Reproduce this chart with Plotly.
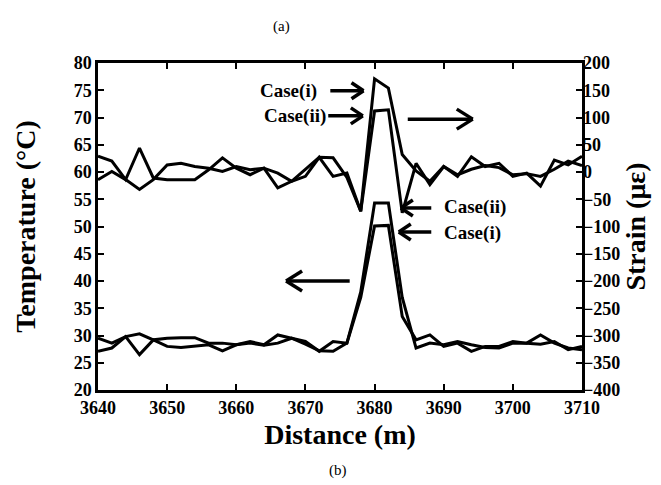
import math
import plotly.graph_objects as go

distance = [3640 + 2 * i for i in range(36)]

temp_case_i = [29.5, 28.6, 29.8, 30.3, 29.2, 29.5, 29.6, 29.6, 28.6, 28.6, 28.3, 28.9,
               28.3, 30.1, 29.5, 28.9, 27.1, 28.9, 28.6, 37.0, 50.1, 50.2, 33.5, 29.2,
               30.1, 28.0, 28.6, 27.1, 28.0, 28.0, 28.9, 28.6, 30.1, 28.6, 27.7, 27.4]
temp_case_ii = [27.1, 27.7, 29.8, 26.5, 29.2, 28.0, 27.8, 28.0, 28.3, 27.2, 28.3, 28.6,
                28.2, 28.6, 29.5, 28.4, 27.2, 27.1, 28.6, 38.0, 54.3, 54.3, 37.0, 27.7,
                28.6, 28.3, 28.9, 28.3, 27.8, 27.7, 28.6, 28.6, 28.4, 28.9, 27.4, 28.0]
strain_case_i = [29, 20, -14, 44, -11, -14, -14, -14, 4, 26, 7, -5, 7, -29, -17, 5, 27, 26,
                 -10, -72, 171, 154, 32, 2, -17, 10, -8, 28, 10, 16, -8, -2, -26, 22, 13, 29]
strain_case_ii = [-14, 1, -14, -32, -14, 13, 16, 10, 7, 1, 10, 4, 7, -2, -17, -8, 27, -8,
                  -2, -72, 112, 114, -75, 16, -23, 10, -5, 5, 12, 8, -5, -3, -8, 5, 20, 12]

x_ticks = [3640, 3650, 3660, 3670, 3680, 3690, 3700, 3710]
FONT = "Liberation Serif, Times New Roman, DejaVu Serif, serif"

fig = go.Figure()
for t in (temp_case_i, temp_case_ii):
    fig.add_trace(go.Scatter(x=distance, y=t, mode="lines", yaxis="y",
                             line=dict(color="black", width=3), showlegend=False))
for s in (strain_case_i, strain_case_ii):
    fig.add_trace(go.Scatter(x=distance, y=s, mode="lines", yaxis="y2",
                             line=dict(color="black", width=3), showlegend=False))

# plot-area geometry (for arrow heads)
L, R, T, B = 90, 87, 55, 103
W, H = 661, 485
pw, ph = W - L - R, H - T - B
sx = pw / 70.0
sy = ph / 60.0

shapes = []


def arrow(x0, y0, x1, y1, head=12, half=8, width=3.5):
    shapes.append(dict(type="line", xref="x", yref="y", x0=x0, y0=y0, x1=x1, y1=y1,
                       line=dict(color="black", width=width)))
    dxp = (x1 - x0) * sx
    dyp = (y1 - y0) * sy
    n = math.hypot(dxp, dyp)
    ux, uy = dxp / n, dyp / n
    for sgn in (1, -1):
        hx = -ux * head + sgn * (-uy) * half
        hy = -uy * head + sgn * ux * half
        shapes.append(dict(type="line", xref="x", yref="y", x0=x1, y0=y1,
                           x1=x1 + hx / sx, y1=y1 + hy / sy,
                           line=dict(color="black", width=width)))


arrow(3673.6, 74.9, 3678.4, 74.9)
arrow(3673.3, 70.3, 3678.3, 70.3)
arrow(3684.8, 69.7, 3694.2, 69.7, head=16, half=10)
arrow(3688.2, 53.4, 3683.8, 53.4)
arrow(3688.2, 49.0, 3683.5, 49.0)
arrow(3676.4, 40.0, 3667.2, 40.0, head=16, half=10)

ann_font = dict(family=FONT, size=19, color="black", weight="bold")
annotations = [
    dict(x=3672.0, y=74.9, xref="x", yref="y", text="Case(i)", showarrow=False,
         xanchor="right", yanchor="middle", font=ann_font),
    dict(x=3673.2, y=70.3, xref="x", yref="y", text="Case(ii)", showarrow=False,
         xanchor="right", yanchor="middle", font=ann_font),
    dict(x=3689.8, y=53.5, xref="x", yref="y", text="Case(ii)", showarrow=False,
         xanchor="left", yanchor="middle", font=ann_font),
    dict(x=3689.8, y=48.9, xref="x", yref="y", text="Case(i)", showarrow=False,
         xanchor="left", yanchor="middle", font=ann_font),
    dict(x=(273 - L) / pw, y=(H - B - 18) / ph, xref="paper", yref="paper", text="(a)",
         showarrow=False, xanchor="center", yanchor="middle",
         font=dict(family=FONT, size=15, color="black")),
    dict(x=(330 - L) / pw, y=(H - B - 462) / ph, xref="paper", yref="paper", text="(b)",
         showarrow=False, xanchor="center", yanchor="middle",
         font=dict(family=FONT, size=15, color="black")),
]

tick_font = dict(family=FONT, size=18, color="black", weight="bold")
title_font = dict(family=FONT, size=28, color="black", weight="bold")

fig.update_layout(
    width=W, height=H,
    margin=dict(l=L, r=R, t=T, b=B, pad=0),
    paper_bgcolor="white", plot_bgcolor="white",
    shapes=shapes, annotations=annotations,
    xaxis=dict(range=[3640, 3710], tickvals=x_ticks, ticks="inside", ticklen=6,
               tickwidth=2, tickcolor="black", showline=True, linecolor="black",
               linewidth=2.5, mirror="ticks", showgrid=False, zeroline=False,
               tickfont=tick_font,
               title=dict(text="Distance (m)", font=title_font, standoff=8)),
    yaxis=dict(range=[20, 80], dtick=5, ticks="inside", ticklen=6, tickwidth=2,
               tickcolor="black", showline=True, linecolor="black", linewidth=2.5,
               mirror=True, showgrid=False, zeroline=False, tickfont=tick_font,
               title=dict(text="Temperature (°C)", font=title_font, standoff=30)),
    yaxis2=dict(range=[-400, 200], dtick=50, ticks="inside", ticklen=6, tickwidth=2,
                tickcolor="black", overlaying="y", side="right", showline=False,
                showgrid=False, zeroline=False, tickfont=tick_font,
                title=dict(text="Strain (με)", font=title_font, standoff=0)),
)

fig.write_html("out.html")
